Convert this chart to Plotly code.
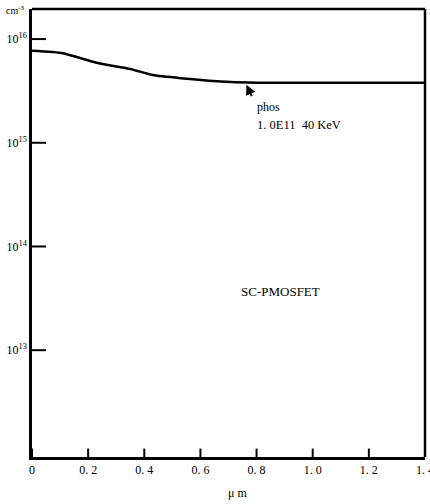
import plotly.graph_objects as go

# Net doping profile of the phosphorus channel implant (depth in um, concentration in cm^-3)
depth_um = [0.0, 0.11, 0.23, 0.35, 0.43, 0.53, 0.71, 0.80, 1.0, 1.2, 1.4]
conc_cm3 = [7.7e15, 7.3e15, 5.9e15, 5.15e15, 4.5e15, 4.2e15, 3.85e15, 3.8e15, 3.8e15, 3.8e15, 3.8e15]

x_ticks = [0, 0.2, 0.4, 0.6, 0.8, 1.0, 1.2, 1.4]
x_tick_text = ["0", "0. 2", "0. 4", "0. 6", "0. 8", "1. 0", "1. 2", "1. 4"]
y_ticks = [1e13, 1e14, 1e15, 1e16]
y_tick_text = ["10<sup>13</sup>", "10<sup>14</sup>", "10<sup>15</sup>", "10<sup>16</sup>"]

X_RANGE = [0, 1.4]
Y_LOG_RANGE = [11.97, 16.29]

FONT = "Liberation Serif"

fig = go.Figure()
fig.add_trace(go.Scatter(
    x=depth_um, y=conc_cm3, mode="lines",
    line=dict(color="black", width=2.5, shape="spline", smoothing=0.5),
    showlegend=False, hoverinfo="skip",
))

# Inward tick marks: symbols centred on the axis, clipped so only the inner half shows
fig.add_trace(go.Scatter(
    x=[X_RANGE[0]] * len(y_ticks), y=y_ticks, mode="markers", cliponaxis=True,
    marker=dict(symbol="line-ew", size=20, color="black", line=dict(width=2, color="black")),
    showlegend=False, hoverinfo="skip",
))
fig.add_trace(go.Scatter(
    x=x_ticks, y=[10 ** Y_LOG_RANGE[0]] * len(x_ticks), mode="markers", cliponaxis=True,
    marker=dict(symbol="line-ns", size=12, color="black", line=dict(width=2, color="black")),
    showlegend=False, hoverinfo="skip",
))

fig.update_layout(
    width=430, height=504,
    margin=dict(l=32, r=5, t=9, b=47, autoexpand=False),
    paper_bgcolor="white", plot_bgcolor="white",
    font=dict(family=FONT, size=12, color="black"),
    xaxis=dict(
        range=X_RANGE, tickmode="array", tickvals=x_ticks, ticktext=x_tick_text,
        ticks="", showline=True, linecolor="black", linewidth=2.5,
        showgrid=False, zeroline=False, automargin=False,
        ticklabeloverflow="allow",
        tickfont=dict(family=FONT, size=12),
    ),
    yaxis=dict(
        type="log", range=Y_LOG_RANGE,
        tickmode="array", tickvals=y_ticks, ticktext=y_tick_text,
        ticks="", showline=True, linecolor="black", linewidth=2.5,
        showgrid=False, zeroline=False, automargin=False,
        tickfont=dict(family=FONT, size=12),
    ),
)

# Top and right frame edges
fig.add_shape(type="line", xref="paper", yref="paper", x0=0, x1=1, y0=1, y1=1,
              line=dict(color="black", width=2.5))
fig.add_shape(type="line", xref="paper", yref="paper", x0=1, x1=1, y0=0, y1=1,
              line=dict(color="black", width=2.5))

# Axis unit labels
fig.add_annotation(x=-0.012, y=1.016, xref="paper", yref="paper",
                   text="cm<sup>-3</sup>", showarrow=False,
                   xanchor="right", yanchor="top",
                   font=dict(family=FONT, size=10))
fig.add_annotation(x=0.524, y=-0.080, xref="paper", yref="paper",
                   text="μ m", showarrow=False, yanchor="middle",
                   font=dict(family=FONT, size=12))

# Implant callout
fig.add_annotation(x=0.764, y=15.56, xref="x", yref="y",
                   text="", showarrow=True, arrowhead=2, arrowsize=1,
                   arrowwidth=2, arrowcolor="black", ax=6, ay=13)
fig.add_annotation(x=0.796, y=15.346, xref="x", yref="y",
                   text="phos", showarrow=False, xanchor="left",
                   font=dict(family=FONT, size=12))
fig.add_annotation(x=0.793, y=15.173, xref="x", yref="y",
                   text="1. 0E11  40 KeV", showarrow=False, xanchor="left",
                   font=dict(family=FONT, size=12.5))
fig.add_annotation(x=0.886, y=13.567, xref="x", yref="y",
                   text="SC-PMOSFET", showarrow=False,
                   font=dict(family=FONT, size=13))

fig.write_html("out.html")
